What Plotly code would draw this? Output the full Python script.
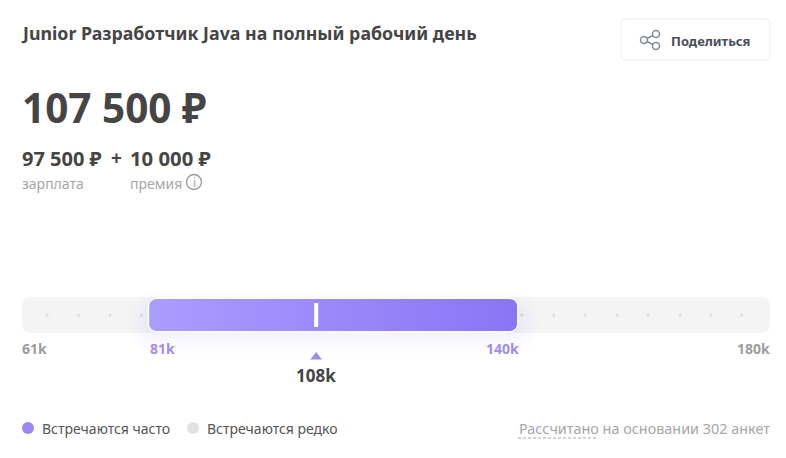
import numpy as np
import plotly.graph_objects as go

# salary scale, thousands of rubles
scale_min = 61
scale_max = 180
range_low = 81
range_high = 140
median = 107.8
dot_values = [65, 70, 75, 80, 140.5, 145.6, 150.6, 155.7, 160.6, 165.7, 170.6, 175.5]
tick_labels = ["61k", "81k", "140k", "180k"]
median_label = "108k"

title = "Junior Разработчик Java на полный рабочий день"
total_label = "107 500 ₽"
salary_label = "97 500 ₽"
bonus_label = "10 000 ₽"

W = 786
H = 458
FONT = "Noto Sans"
DARK = "#454545"
GREY = "#a6a6a6"
PURPLE = "#a08cec"

X0 = 22
X1 = 770
KPX = (X1 - X0) / (scale_max - scale_min)  # pixels per thousand


def rounded(x0, x1, y0, y1, r):
    # outline of a rounded box, x in salary units and y in pixels
    rx = r / KPX
    t = np.linspace(0, np.pi / 2, 8)
    xs = np.concatenate([
        x0 + rx - rx * np.cos(t),
        x1 - rx + rx * np.sin(t),
        x1 - rx + rx * np.cos(t),
        x0 + rx - rx * np.sin(t),
    ])
    ys = np.concatenate([
        y0 + r - r * np.sin(t),
        y0 + r - r * np.cos(t),
        y1 - r + r * np.sin(t),
        y1 - r + r * np.cos(t),
    ])
    return np.append(xs, xs[0]), np.append(ys, ys[0])


def box(x0, x1, y0, y1, r, color):
    xs, ys = rounded(x0, x1, y0, y1, r)
    return go.Scatter(x=xs, y=ys, mode="lines", line=dict(width=0), fill="toself", fillcolor=color, hoverinfo="skip")


fig = go.Figure()

# grey track
fig.add_trace(box(scale_min, scale_max, 297, 333, 8, "#f4f4f5"))

fig.add_trace(
    go.Scatter(
        x=dot_values,
        y=[315] * len(dot_values),
        mode="markers",
        marker=dict(size=3, color="#dcdcdc"),
        hoverinfo="skip",
    )
)

# soft glow under the purple range
for grow in range(20, 0, -2):
    pad = grow / KPX
    fig.add_trace(box(range_low - pad, range_high + pad, 299 - grow + 12, 331 + grow + 3, 8 + grow, "rgba(140,120,245,0.009)"))

# white border then the gradient range
fig.add_trace(box(range_low, range_high, 297.5, 332.5, 9, "#ffffff"))
xs, ys = rounded(range_low + 1.5 / KPX, range_high - 1.5 / KPX, 299, 331, 7)
fig.add_trace(
    go.Scatter(
        x=xs,
        y=ys,
        mode="lines",
        line=dict(width=0),
        fill="toself",
        fillgradient=dict(type="horizontal", colorscale=[[0, "#ab9cff"], [1, "#8a75f5"]]),
        hoverinfo="skip",
    )
)

# median tick and the small arrow below the bar
fig.add_trace(
    go.Scatter(x=[median, median], y=[303, 327], mode="lines", line=dict(color="#ffffff", width=4), hoverinfo="skip")
)
fig.add_trace(
    go.Scatter(
        x=[median],
        y=[357],
        mode="markers",
        marker=dict(symbol="triangle-up", size=10, color="#a08cec", line=dict(width=0)),
        hoverinfo="skip",
    )
)

# legend dots, these live on the pixel axis
fig.add_trace(
    go.Scatter(
        x=[28, 193],
        y=[428, 428],
        xaxis="x2",
        mode="markers",
        marker=dict(size=12, color=["#9d88f3", "#e2e2e2"]),
        hoverinfo="skip",
    )
)


def label(text, x, y, size, color, anchor="left", bold=False, xref="x2"):
    fig.add_annotation(
        text=f"<b>{text}</b>" if bold else text,
        x=x,
        y=y,
        xref=xref,
        yref="y",
        xanchor=anchor,
        yanchor="middle",
        showarrow=False,
        font=dict(family=FONT, size=size, color=color),
        borderpad=0,
        borderwidth=0,
    )


label(title, 21, 33, 17.8, DARK, bold=True)
label(total_label, 22, 107, 40.5, DARK, bold=True)
label(salary_label, 22, 158, 20, DARK, bold=True)
label("+", 116, 158, 19, DARK, anchor="center", bold=True)
label(bonus_label, 130, 158, 20.3, DARK, bold=True)
label("зарплата", 22, 183, 14, GREY)
label("премия", 130, 183, 14, GREY)
label("i", 194, 182, 12, GREY, anchor="center")
label("Поделиться", 671, 41, 13, "#4a4f57", bold=True)

label(tick_labels[0], scale_min, 348, 14, "#9c9c9c", xref="x", bold=True)
label(tick_labels[1], range_low + 0.3, 348, 14, PURPLE, xref="x", bold=True)
label(tick_labels[2], range_high, 348, 14, PURPLE, anchor="right", xref="x", bold=True)
label(tick_labels[3], scale_max, 348, 14, "#9c9c9c", anchor="right", xref="x", bold=True)
label(median_label, median, 375, 17, DARK, anchor="center", xref="x", bold=True)

label("Встречаются часто", 42, 428, 14, "#555555")
label("Встречаются редко", 207, 428, 14, "#555555")
label("Рассчитано на основании 302 анкет", 770, 428, 14.4, GREY, anchor="right")

# share button
fig.add_shape(
    type="path",
    path="M 625 19 L 766 19 Q 770 19 770 23 L 770 56 Q 770 60 766 60 L 625 60 Q 621 60 621 56 L 621 23 Q 621 19 625 19 Z",
    xref="x2",
    yref="y",
    line=dict(color="#eeeeee", width=1),
    fillcolor="#ffffff",
    layer="below",
)
for x_from, y_from, x_to, y_to in [(644, 40, 656, 34), (644, 40, 656, 46)]:
    fig.add_shape(type="line", x0=x_from, y0=y_from, x1=x_to, y1=y_to, xref="x2", yref="y", line=dict(color="#838b93", width=1.5))
for cx, cy in [(644, 40), (656, 34), (656, 46)]:
    fig.add_shape(
        type="circle", x0=cx - 3.5, x1=cx + 3.5, y0=cy - 3.5, y1=cy + 3.5, xref="x2", yref="y",
        line=dict(color="#838b93", width=1.5), fillcolor="#ffffff",
    )

# info icon and dashed underline
fig.add_shape(type="circle", x0=186.5, x1=201.5, y0=174.5, y1=189.5, xref="x2", yref="y", line=dict(color="#999999", width=1.3))
fig.add_shape(type="line", x0=518, x1=596, y0=438, y1=438, xref="x2", yref="y", line=dict(color="#a6a6a6", width=1, dash="3px,2px"))

fig.update_layout(
    width=W,
    height=H,
    margin=dict(t=0, b=0, l=0, r=0),
    showlegend=False,
    plot_bgcolor="rgba(0,0,0,0)",
    paper_bgcolor="#ffffff",
    xaxis=dict(domain=[X0 / W, X1 / W], range=[scale_min, scale_max], visible=False, fixedrange=True),
    xaxis2=dict(domain=[0, 1], range=[0, W], visible=False, fixedrange=True, anchor="y"),
    yaxis=dict(domain=[0, 1], range=[H, 0], visible=False, fixedrange=True),
)

fig.write_html("out.html", config={"displayModeBar": False}, post_script="document.body.style.margin='0';")
